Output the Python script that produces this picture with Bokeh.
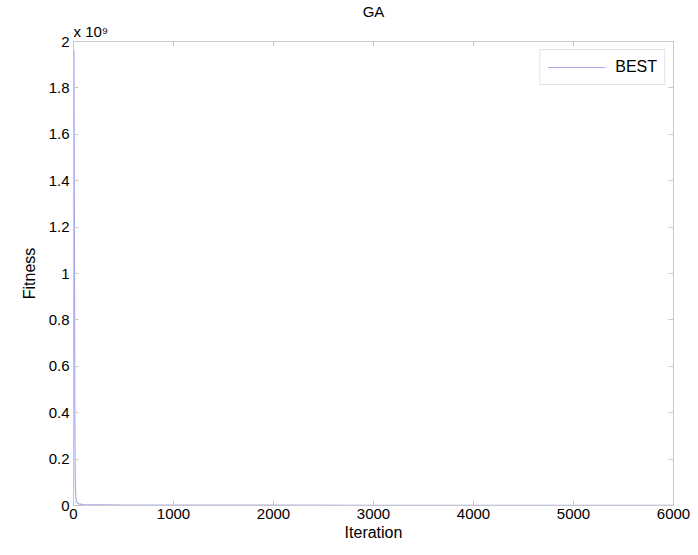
from bokeh.plotting import figure
from bokeh.models import (Range1d, LinearAxis, CustomJSTickFormatter,
                          Legend, LegendItem, FixedTicker, Title)
from bokeh.embed import file_html
from bokeh.resources import INLINE

# Data: best fitness per iteration
iterations = [5, 7, 9, 11, 13, 15, 18, 22, 30, 50, 100, 500, 1000, 2000, 3000, 4000, 5000, 6000]
best_fitness = [1.96e9, 1.6e9, 1.2e9, 0.8e9, 0.45e9, 0.22e9, 0.1e9, 0.04e9, 0.015e9, 0.007e9,
                0.004e9, 0.002e9, 0.0015e9, 0.0012e9, 0.0011e9, 0.001e9, 0.001e9, 0.001e9]

x_ticks = [0, 1000, 2000, 3000, 4000, 5000, 6000]
y_ticks = [0, 0.2e9, 0.4e9, 0.6e9, 0.8e9, 1.0e9, 1.2e9, 1.4e9, 1.6e9, 1.8e9, 2.0e9]

FONT = "Liberation Sans"
AX = "#c8c8c8"
LINE = "#a9a9ee"

p = figure(output_backend="svg", toolbar_location=None,
           frame_width=600, frame_height=464,
           min_border_left=73, min_border_right=17, min_border_top=10, min_border_bottom=30,
           x_range=Range1d(0, 6000), y_range=Range1d(0, 2e9))
p.xgrid.visible = False
p.ygrid.visible = False
p.outline_line_color = AX
p.background_fill_color = "white"
p.border_fill_color = "white"

p.title.text = "GA"
p.title.align = "center"
p.title.text_font = FONT
p.title.text_font_size = "15px"
p.title.text_font_style = "normal"
p.title.text_color = "black"
p.title.standoff = 0

r = p.line(iterations, best_fitness, line_color=LINE, line_width=1.2)

fmt = CustomJSTickFormatter(code="return Number((tick/1e9).toFixed(1)).toString();")

for ax in (p.xaxis[0], p.yaxis[0]):
    ax.axis_line_color = AX
    ax.major_tick_line_color = AX
    ax.major_tick_in = 5
    ax.major_tick_out = 0
    ax.minor_tick_line_color = None
    ax.major_label_text_font = FONT
    ax.major_label_text_font_size = "15px"
    ax.major_label_text_color = "black"
    ax.axis_label_text_font = FONT
    ax.axis_label_text_font_size = "16px"
    ax.axis_label_text_font_style = "normal"
    ax.axis_label_text_color = "black"

p.xaxis[0].ticker = FixedTicker(ticks=x_ticks)
p.yaxis[0].ticker = FixedTicker(ticks=y_ticks)
p.yaxis[0].formatter = fmt
p.xaxis[0].axis_label = "Iteration"
p.yaxis[0].axis_label = "Fitness"
p.xaxis[0].major_label_standoff = 3
p.yaxis[0].major_label_standoff = 4
p.xaxis[0].axis_label_standoff = 2
p.yaxis[0].axis_label_standoff = 8

# box ticks on top/right
for loc, tk in (("above", x_ticks), ("right", y_ticks)):
    a = LinearAxis(ticker=FixedTicker(ticks=tk))
    a.axis_line_color = AX
    a.major_tick_line_color = AX
    a.major_tick_in = 5
    a.major_tick_out = 0
    a.minor_tick_line_color = None
    a.major_label_text_font_size = "0px"
    a.major_label_standoff = 0
    p.add_layout(a, loc)

# exponent multiplier, left aligned above the frame
mult = Title(text="x 10\u2079", align="left", text_font=FONT, text_font_size="15px",
             text_font_style="normal", text_color="black", standoff=3)
p.add_layout(mult, "above")

legend = Legend(items=[LegendItem(label="BEST", renderers=[r])], location="top_right")
legend.label_text_font = FONT
legend.label_text_font_size = "16px"
legend.label_text_color = "black"
legend.border_line_color = "#c8c8c8"
legend.glyph_width = 58
legend.label_standoff = 10
legend.padding = 7
legend.margin = 8
p.add_layout(legend)

open("out.html", "w").write(file_html(p, INLINE))
